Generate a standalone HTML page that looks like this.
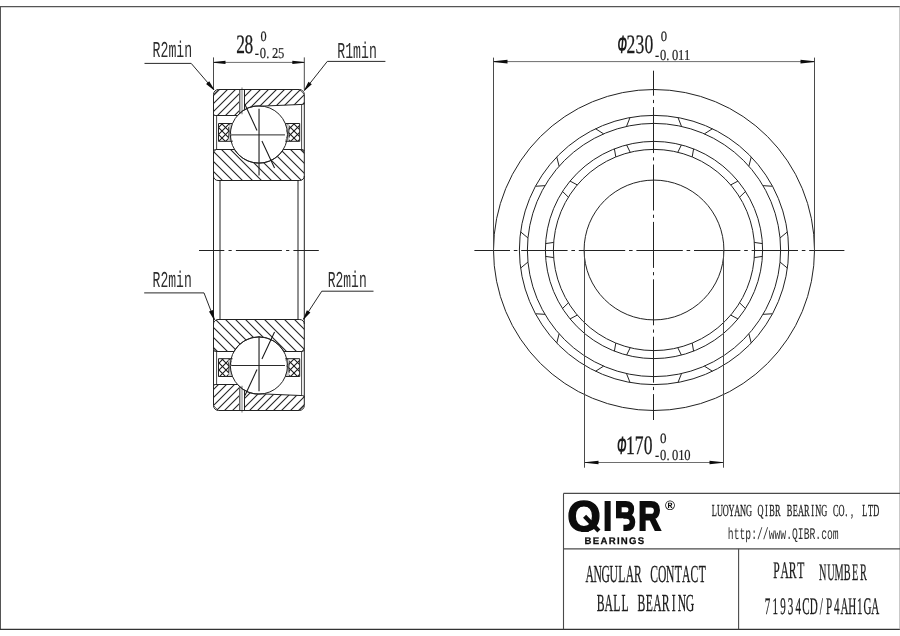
<!DOCTYPE html>
<html lang="en">
<head>
<meta charset="utf-8">
<title>QIBR 71934CD/P4AH1GA Angular Contact Ball Bearing</title>
<style>
html,body{margin:0;padding:0;background:#fff;}
body{width:900px;height:636px;overflow:hidden;}
svg{display:block;}
text{text-rendering:geometricPrecision;}
</style>
</head>
<body>
<svg width="900" height="636" viewBox="0 0 900 636" style="will-change:transform;filter:grayscale(1)">
<rect x="0" y="0" width="900" height="636" fill="#fff"/>
<g id="frame">
<line x1="0.00" y1="6.60" x2="900.00" y2="6.60" stroke="#555" stroke-width="1.15"/>
<line x1="0.50" y1="6.60" x2="0.50" y2="629.50" stroke="#555" stroke-width="1.0"/>
<line x1="0.00" y1="629.40" x2="900.00" y2="629.40" stroke="#333" stroke-width="1.15"/>
<line x1="899.60" y1="6.60" x2="899.60" y2="629.30" stroke="#b4b4b4" stroke-width="0.8"/>
<line x1="563.50" y1="493.40" x2="900.00" y2="493.40" stroke="#4a4a4a" stroke-width="1.15"/>
<line x1="563.50" y1="493.40" x2="563.50" y2="629.30" stroke="#4a4a4a" stroke-width="1.1"/>
<line x1="563.50" y1="548.80" x2="900.00" y2="548.80" stroke="#4a4a4a" stroke-width="1.15"/>
<line x1="738.60" y1="548.80" x2="738.60" y2="629.30" stroke="#4a4a4a" stroke-width="1.1"/>
</g>
<g id="section-t">
<clipPath id="cot"><path d="M218.50,89.50 L299.30,89.50 A5.0,5.0 0 0 1 304.30,94.50 L304.30,102.80 A1.6,1.6 0 0 1 302.70,104.40 L262.40,106.11 A28.6,28.6 0 0 0 237.52,115.50 L215.10,115.50 A1.6,1.6 0 0 1 213.50,113.90 L213.50,94.50 A5.0,5.0 0 0 1 218.50,89.50 Z"/></clipPath>
<g clip-path="url(#cot)">
<line x1="150.00" y1="53.00" x2="350.00" y2="-147.00" stroke="#222222" stroke-width="1.1"/>
<line x1="150.00" y1="61.00" x2="350.00" y2="-139.00" stroke="#222222" stroke-width="1.1"/>
<line x1="150.00" y1="69.00" x2="350.00" y2="-131.00" stroke="#222222" stroke-width="1.1"/>
<line x1="150.00" y1="77.00" x2="350.00" y2="-123.00" stroke="#222222" stroke-width="1.1"/>
<line x1="150.00" y1="85.00" x2="350.00" y2="-115.00" stroke="#222222" stroke-width="1.1"/>
<line x1="150.00" y1="93.00" x2="350.00" y2="-107.00" stroke="#222222" stroke-width="1.1"/>
<line x1="150.00" y1="102.00" x2="350.00" y2="-98.00" stroke="#222222" stroke-width="1.1"/>
<line x1="150.00" y1="110.00" x2="350.00" y2="-90.00" stroke="#222222" stroke-width="1.1"/>
<line x1="150.00" y1="118.00" x2="350.00" y2="-82.00" stroke="#222222" stroke-width="1.1"/>
<line x1="150.00" y1="126.00" x2="350.00" y2="-74.00" stroke="#222222" stroke-width="1.1"/>
<line x1="150.00" y1="134.00" x2="350.00" y2="-66.00" stroke="#222222" stroke-width="1.1"/>
<line x1="150.00" y1="142.00" x2="350.00" y2="-58.00" stroke="#222222" stroke-width="1.1"/>
<line x1="150.00" y1="151.00" x2="350.00" y2="-49.00" stroke="#222222" stroke-width="1.1"/>
<line x1="150.00" y1="159.00" x2="350.00" y2="-41.00" stroke="#222222" stroke-width="1.1"/>
<line x1="150.00" y1="167.00" x2="350.00" y2="-33.00" stroke="#222222" stroke-width="1.1"/>
<line x1="150.00" y1="175.00" x2="350.00" y2="-25.00" stroke="#222222" stroke-width="1.1"/>
<line x1="150.00" y1="183.00" x2="350.00" y2="-17.00" stroke="#222222" stroke-width="1.1"/>
<line x1="150.00" y1="191.00" x2="350.00" y2="-9.00" stroke="#222222" stroke-width="1.1"/>
<line x1="150.00" y1="200.00" x2="350.00" y2="0.00" stroke="#222222" stroke-width="1.1"/>
<line x1="150.00" y1="208.00" x2="350.00" y2="8.00" stroke="#222222" stroke-width="1.1"/>
<line x1="150.00" y1="216.00" x2="350.00" y2="16.00" stroke="#222222" stroke-width="1.1"/>
<line x1="150.00" y1="224.00" x2="350.00" y2="24.00" stroke="#222222" stroke-width="1.1"/>
<line x1="150.00" y1="232.00" x2="350.00" y2="32.00" stroke="#222222" stroke-width="1.1"/>
<line x1="150.00" y1="240.00" x2="350.00" y2="40.00" stroke="#222222" stroke-width="1.1"/>
<line x1="150.00" y1="249.00" x2="350.00" y2="49.00" stroke="#222222" stroke-width="1.1"/>
<line x1="150.00" y1="257.00" x2="350.00" y2="57.00" stroke="#222222" stroke-width="1.1"/>
<line x1="150.00" y1="265.00" x2="350.00" y2="65.00" stroke="#222222" stroke-width="1.1"/>
<line x1="150.00" y1="273.00" x2="350.00" y2="73.00" stroke="#222222" stroke-width="1.1"/>
<line x1="150.00" y1="281.00" x2="350.00" y2="81.00" stroke="#222222" stroke-width="1.1"/>
<line x1="150.00" y1="289.00" x2="350.00" y2="89.00" stroke="#222222" stroke-width="1.1"/>
<rect x="239.0" y="88.50" width="6.0" height="28.00" fill="#fff"/>
<rect x="239.6" y="88.50" width="3.5" height="28.00" fill="#bdbdbd"/>
<line x1="239.50" y1="89.50" x2="239.50" y2="115.50" stroke="#666" stroke-width="1.0"/>
<line x1="244.50" y1="89.50" x2="244.50" y2="115.50" stroke="#222222" stroke-width="1.0"/>
</g>
<line x1="242.00" y1="87.50" x2="242.00" y2="89.50" stroke="#aaa" stroke-width="1.6"/>
<line x1="242.00" y1="112.00" x2="242.00" y2="114.30" stroke="#999" stroke-width="1.4"/>
<path d="M218.50,89.50 L299.30,89.50 A5.0,5.0 0 0 1 304.30,94.50 L304.30,102.80 A1.6,1.6 0 0 1 302.70,104.40 L262.40,106.11 A28.6,28.6 0 0 0 237.52,115.50 L215.10,115.50 A1.6,1.6 0 0 1 213.50,113.90 L213.50,94.50 A5.0,5.0 0 0 1 218.50,89.50 Z" stroke="#222222" stroke-width="1.0" fill="none"/>
<line x1="213.80" y1="94.10" x2="218.10" y2="89.80" stroke="#222222" stroke-width="0.7"/>
<line x1="304.00" y1="94.10" x2="299.70" y2="89.80" stroke="#222222" stroke-width="0.7"/>
<clipPath id="cit"><path d="M215.70,149.50 L234.55,149.50 A28.6,28.6 0 0 0 283.25,149.50 L302.10,149.50 A2.2,2.2 0 0 1 304.30,151.70 L304.30,176.00 A4.5,4.5 0 0 1 299.80,180.50 L218.00,180.50 A4.5,4.5 0 0 1 213.50,176.00 L213.50,151.70 A2.2,2.2 0 0 1 215.70,149.50 Z"/></clipPath>
<g clip-path="url(#cit)">
<line x1="150.00" y1="267.00" x2="350.00" y2="467.00" stroke="#222222" stroke-width="1.1"/>
<line x1="150.00" y1="257.00" x2="350.00" y2="457.00" stroke="#222222" stroke-width="1.1"/>
<line x1="150.00" y1="247.00" x2="350.00" y2="447.00" stroke="#222222" stroke-width="1.1"/>
<line x1="150.00" y1="237.00" x2="350.00" y2="437.00" stroke="#222222" stroke-width="1.1"/>
<line x1="150.00" y1="227.00" x2="350.00" y2="427.00" stroke="#222222" stroke-width="1.1"/>
<line x1="150.00" y1="217.00" x2="350.00" y2="417.00" stroke="#222222" stroke-width="1.1"/>
<line x1="150.00" y1="207.00" x2="350.00" y2="407.00" stroke="#222222" stroke-width="1.1"/>
<line x1="150.00" y1="197.00" x2="350.00" y2="397.00" stroke="#222222" stroke-width="1.1"/>
<line x1="150.00" y1="187.00" x2="350.00" y2="387.00" stroke="#222222" stroke-width="1.1"/>
<line x1="150.00" y1="177.00" x2="350.00" y2="377.00" stroke="#222222" stroke-width="1.1"/>
<line x1="150.00" y1="168.00" x2="350.00" y2="368.00" stroke="#222222" stroke-width="1.1"/>
<line x1="150.00" y1="158.00" x2="350.00" y2="358.00" stroke="#222222" stroke-width="1.1"/>
<line x1="150.00" y1="148.00" x2="350.00" y2="348.00" stroke="#222222" stroke-width="1.1"/>
<line x1="150.00" y1="138.00" x2="350.00" y2="338.00" stroke="#222222" stroke-width="1.1"/>
<line x1="150.00" y1="128.00" x2="350.00" y2="328.00" stroke="#222222" stroke-width="1.1"/>
<line x1="150.00" y1="118.00" x2="350.00" y2="318.00" stroke="#222222" stroke-width="1.1"/>
<line x1="150.00" y1="108.00" x2="350.00" y2="308.00" stroke="#222222" stroke-width="1.1"/>
<line x1="150.00" y1="98.00" x2="350.00" y2="298.00" stroke="#222222" stroke-width="1.1"/>
<line x1="150.00" y1="88.00" x2="350.00" y2="288.00" stroke="#222222" stroke-width="1.1"/>
<line x1="150.00" y1="78.00" x2="350.00" y2="278.00" stroke="#222222" stroke-width="1.1"/>
<line x1="150.00" y1="69.00" x2="350.00" y2="269.00" stroke="#222222" stroke-width="1.1"/>
<line x1="150.00" y1="59.00" x2="350.00" y2="259.00" stroke="#222222" stroke-width="1.1"/>
<line x1="150.00" y1="49.00" x2="350.00" y2="249.00" stroke="#222222" stroke-width="1.1"/>
<line x1="150.00" y1="39.00" x2="350.00" y2="239.00" stroke="#222222" stroke-width="1.1"/>
<line x1="150.00" y1="29.00" x2="350.00" y2="229.00" stroke="#222222" stroke-width="1.1"/>
<line x1="150.00" y1="19.00" x2="350.00" y2="219.00" stroke="#222222" stroke-width="1.1"/>
<line x1="150.00" y1="9.00" x2="350.00" y2="209.00" stroke="#222222" stroke-width="1.1"/>
<line x1="150.00" y1="-1.00" x2="350.00" y2="199.00" stroke="#222222" stroke-width="1.1"/>
<line x1="150.00" y1="-11.00" x2="350.00" y2="189.00" stroke="#222222" stroke-width="1.1"/>
<line x1="150.00" y1="-21.00" x2="350.00" y2="179.00" stroke="#222222" stroke-width="1.1"/>
<line x1="150.00" y1="-30.00" x2="350.00" y2="170.00" stroke="#222222" stroke-width="1.1"/>
<line x1="150.00" y1="-40.00" x2="350.00" y2="160.00" stroke="#222222" stroke-width="1.1"/>
</g>
<path d="M215.70,149.50 L234.55,149.50 A28.6,28.6 0 0 0 283.25,149.50 L302.10,149.50 A2.2,2.2 0 0 1 304.30,151.70 L304.30,176.00 A4.5,4.5 0 0 1 299.80,180.50 L218.00,180.50 A4.5,4.5 0 0 1 213.50,176.00 L213.50,151.70 A2.2,2.2 0 0 1 215.70,149.50 Z" stroke="#222222" stroke-width="1.0" fill="none"/>
<line x1="213.80" y1="151.90" x2="215.90" y2="149.80" stroke="#222222" stroke-width="0.7"/>
<line x1="304.00" y1="151.90" x2="301.90" y2="149.80" stroke="#222222" stroke-width="0.7"/>
<line x1="213.50" y1="113.50" x2="213.50" y2="151.50" stroke="#222222" stroke-width="1.0"/>
<line x1="304.30" y1="102.40" x2="304.30" y2="151.50" stroke="#222222" stroke-width="1.0"/>
<line x1="216.60" y1="115.50" x2="216.60" y2="149.50" stroke="#333" stroke-width="0.9"/>
<line x1="301.60" y1="104.40" x2="301.60" y2="149.50" stroke="#333" stroke-width="0.9"/>
<clipPath id="cctl"><path d="M218.50,123.50 L232.50,123.50 A28.6,28.6 0 0 0 232.50,141.30 L218.50,141.30 Z"/></clipPath>
<g clip-path="url(#cctl)">
<line x1="150.00" y1="10.00" x2="350.00" y2="210.00" stroke="#1a1a1a" stroke-width="1.1"/>
<line x1="150.00" y1="17.00" x2="350.00" y2="217.00" stroke="#1a1a1a" stroke-width="1.1"/>
<line x1="150.00" y1="24.00" x2="350.00" y2="224.00" stroke="#1a1a1a" stroke-width="1.1"/>
<line x1="150.00" y1="31.00" x2="350.00" y2="231.00" stroke="#1a1a1a" stroke-width="1.1"/>
<line x1="150.00" y1="38.00" x2="350.00" y2="238.00" stroke="#1a1a1a" stroke-width="1.1"/>
<line x1="150.00" y1="45.00" x2="350.00" y2="245.00" stroke="#1a1a1a" stroke-width="1.1"/>
<line x1="150.00" y1="52.00" x2="350.00" y2="252.00" stroke="#1a1a1a" stroke-width="1.1"/>
<line x1="150.00" y1="59.00" x2="350.00" y2="259.00" stroke="#1a1a1a" stroke-width="1.1"/>
<line x1="150.00" y1="66.00" x2="350.00" y2="266.00" stroke="#1a1a1a" stroke-width="1.1"/>
<line x1="150.00" y1="73.00" x2="350.00" y2="273.00" stroke="#1a1a1a" stroke-width="1.1"/>
<line x1="150.00" y1="80.00" x2="350.00" y2="280.00" stroke="#1a1a1a" stroke-width="1.1"/>
<line x1="150.00" y1="87.00" x2="350.00" y2="287.00" stroke="#1a1a1a" stroke-width="1.1"/>
<line x1="150.00" y1="94.00" x2="350.00" y2="294.00" stroke="#1a1a1a" stroke-width="1.1"/>
<line x1="150.00" y1="154.00" x2="350.00" y2="-46.00" stroke="#1a1a1a" stroke-width="1.1"/>
<line x1="150.00" y1="161.00" x2="350.00" y2="-39.00" stroke="#1a1a1a" stroke-width="1.1"/>
<line x1="150.00" y1="168.00" x2="350.00" y2="-32.00" stroke="#1a1a1a" stroke-width="1.1"/>
<line x1="150.00" y1="175.00" x2="350.00" y2="-25.00" stroke="#1a1a1a" stroke-width="1.1"/>
<line x1="150.00" y1="182.00" x2="350.00" y2="-18.00" stroke="#1a1a1a" stroke-width="1.1"/>
<line x1="150.00" y1="189.00" x2="350.00" y2="-11.00" stroke="#1a1a1a" stroke-width="1.1"/>
<line x1="150.00" y1="196.00" x2="350.00" y2="-4.00" stroke="#1a1a1a" stroke-width="1.1"/>
<line x1="150.00" y1="203.00" x2="350.00" y2="3.00" stroke="#1a1a1a" stroke-width="1.1"/>
<line x1="150.00" y1="210.00" x2="350.00" y2="10.00" stroke="#1a1a1a" stroke-width="1.1"/>
<line x1="150.00" y1="217.00" x2="350.00" y2="17.00" stroke="#1a1a1a" stroke-width="1.1"/>
<line x1="150.00" y1="224.00" x2="350.00" y2="24.00" stroke="#1a1a1a" stroke-width="1.1"/>
<line x1="150.00" y1="231.00" x2="350.00" y2="31.00" stroke="#1a1a1a" stroke-width="1.1"/>
<line x1="150.00" y1="238.00" x2="350.00" y2="38.00" stroke="#1a1a1a" stroke-width="1.1"/>
<path d="M228.30,125.00 Q230.20,132.40 228.30,140.30 L232.50,141.30 A28.6,28.6 0 0 1 232.50,123.50 Z" fill="#c8c8c8" stroke="none"/>
<path d="M228.50,127.20 Q229.60,132.40 228.50,137.60" fill="none" stroke="#222222" stroke-width="0.9"/>
</g>
<path d="M232.50,123.50 L218.50,123.50 L218.50,141.30 L232.50,141.30" stroke="#222222" stroke-width="1.0" fill="none"/>
<clipPath id="cctr"><path d="M299.70,123.50 L285.30,123.50 A28.6,28.6 0 0 1 285.30,141.30 L299.70,141.30 Z"/></clipPath>
<g clip-path="url(#cctr)">
<line x1="150.00" y1="-62.00" x2="350.00" y2="138.00" stroke="#1a1a1a" stroke-width="1.1"/>
<line x1="150.00" y1="-55.00" x2="350.00" y2="145.00" stroke="#1a1a1a" stroke-width="1.1"/>
<line x1="150.00" y1="-48.00" x2="350.00" y2="152.00" stroke="#1a1a1a" stroke-width="1.1"/>
<line x1="150.00" y1="-41.00" x2="350.00" y2="159.00" stroke="#1a1a1a" stroke-width="1.1"/>
<line x1="150.00" y1="-34.00" x2="350.00" y2="166.00" stroke="#1a1a1a" stroke-width="1.1"/>
<line x1="150.00" y1="-27.00" x2="350.00" y2="173.00" stroke="#1a1a1a" stroke-width="1.1"/>
<line x1="150.00" y1="-20.00" x2="350.00" y2="180.00" stroke="#1a1a1a" stroke-width="1.1"/>
<line x1="150.00" y1="-13.00" x2="350.00" y2="187.00" stroke="#1a1a1a" stroke-width="1.1"/>
<line x1="150.00" y1="-6.00" x2="350.00" y2="194.00" stroke="#1a1a1a" stroke-width="1.1"/>
<line x1="150.00" y1="1.00" x2="350.00" y2="201.00" stroke="#1a1a1a" stroke-width="1.1"/>
<line x1="150.00" y1="8.00" x2="350.00" y2="208.00" stroke="#1a1a1a" stroke-width="1.1"/>
<line x1="150.00" y1="15.00" x2="350.00" y2="215.00" stroke="#1a1a1a" stroke-width="1.1"/>
<line x1="150.00" y1="22.00" x2="350.00" y2="222.00" stroke="#1a1a1a" stroke-width="1.1"/>
<line x1="150.00" y1="226.00" x2="350.00" y2="26.00" stroke="#1a1a1a" stroke-width="1.1"/>
<line x1="150.00" y1="233.00" x2="350.00" y2="33.00" stroke="#1a1a1a" stroke-width="1.1"/>
<line x1="150.00" y1="240.00" x2="350.00" y2="40.00" stroke="#1a1a1a" stroke-width="1.1"/>
<line x1="150.00" y1="247.00" x2="350.00" y2="47.00" stroke="#1a1a1a" stroke-width="1.1"/>
<line x1="150.00" y1="254.00" x2="350.00" y2="54.00" stroke="#1a1a1a" stroke-width="1.1"/>
<line x1="150.00" y1="261.00" x2="350.00" y2="61.00" stroke="#1a1a1a" stroke-width="1.1"/>
<line x1="150.00" y1="268.00" x2="350.00" y2="68.00" stroke="#1a1a1a" stroke-width="1.1"/>
<line x1="150.00" y1="275.00" x2="350.00" y2="75.00" stroke="#1a1a1a" stroke-width="1.1"/>
<line x1="150.00" y1="282.00" x2="350.00" y2="82.00" stroke="#1a1a1a" stroke-width="1.1"/>
<line x1="150.00" y1="289.00" x2="350.00" y2="89.00" stroke="#1a1a1a" stroke-width="1.1"/>
<line x1="150.00" y1="296.00" x2="350.00" y2="96.00" stroke="#1a1a1a" stroke-width="1.1"/>
<line x1="150.00" y1="303.00" x2="350.00" y2="103.00" stroke="#1a1a1a" stroke-width="1.1"/>
<line x1="150.00" y1="310.00" x2="350.00" y2="110.00" stroke="#1a1a1a" stroke-width="1.1"/>
<path d="M289.50,125.00 Q287.60,132.40 289.50,140.30 L285.30,141.30 A28.6,28.6 0 0 0 285.30,123.50 Z" fill="#c8c8c8" stroke="none"/>
<path d="M289.30,127.20 Q288.20,132.40 289.30,137.60" fill="none" stroke="#222222" stroke-width="0.9"/>
</g>
<path d="M285.30,123.50 L299.70,123.50 L299.70,141.30 L285.30,141.30" stroke="#222222" stroke-width="1.0" fill="none"/>
<circle cx="258.90" cy="134.50" r="28.60" stroke="#222222" stroke-width="1.0" fill="none"/>
<line x1="231.20" y1="134.90" x2="285.00" y2="134.90" stroke="#2a2a2a" stroke-width="1.0"/>
<line x1="259.03" y1="108.70" x2="259.03" y2="175.40" stroke="#222" stroke-width="1.15"/>
<line x1="244.95" y1="104.59" x2="257.00" y2="130.42" stroke="#161616" stroke-width="1.05"/>
<line x1="261.94" y1="141.03" x2="274.54" y2="168.03" stroke="#161616" stroke-width="1.05"/>
</g>
<g id="section-b">
<clipPath id="cob"><path d="M218.50,410.50 L299.30,410.50 A5.0,5.0 0 0 0 304.30,405.50 L304.30,397.20 A1.6,1.6 0 0 0 302.70,395.60 L262.40,393.89 A28.6,28.6 0 0 1 237.52,384.50 L215.10,384.50 A1.6,1.6 0 0 0 213.50,386.10 L213.50,405.50 A5.0,5.0 0 0 0 218.50,410.50 Z"/></clipPath>
<g clip-path="url(#cob)">
<line x1="150.00" y1="346.00" x2="350.00" y2="146.00" stroke="#222222" stroke-width="1.1"/>
<line x1="150.00" y1="355.00" x2="350.00" y2="155.00" stroke="#222222" stroke-width="1.1"/>
<line x1="150.00" y1="363.00" x2="350.00" y2="163.00" stroke="#222222" stroke-width="1.1"/>
<line x1="150.00" y1="371.00" x2="350.00" y2="171.00" stroke="#222222" stroke-width="1.1"/>
<line x1="150.00" y1="379.00" x2="350.00" y2="179.00" stroke="#222222" stroke-width="1.1"/>
<line x1="150.00" y1="387.00" x2="350.00" y2="187.00" stroke="#222222" stroke-width="1.1"/>
<line x1="150.00" y1="395.00" x2="350.00" y2="195.00" stroke="#222222" stroke-width="1.1"/>
<line x1="150.00" y1="404.00" x2="350.00" y2="204.00" stroke="#222222" stroke-width="1.1"/>
<line x1="150.00" y1="412.00" x2="350.00" y2="212.00" stroke="#222222" stroke-width="1.1"/>
<line x1="150.00" y1="420.00" x2="350.00" y2="220.00" stroke="#222222" stroke-width="1.1"/>
<line x1="150.00" y1="428.00" x2="350.00" y2="228.00" stroke="#222222" stroke-width="1.1"/>
<line x1="150.00" y1="436.00" x2="350.00" y2="236.00" stroke="#222222" stroke-width="1.1"/>
<line x1="150.00" y1="444.00" x2="350.00" y2="244.00" stroke="#222222" stroke-width="1.1"/>
<line x1="150.00" y1="453.00" x2="350.00" y2="253.00" stroke="#222222" stroke-width="1.1"/>
<line x1="150.00" y1="461.00" x2="350.00" y2="261.00" stroke="#222222" stroke-width="1.1"/>
<line x1="150.00" y1="469.00" x2="350.00" y2="269.00" stroke="#222222" stroke-width="1.1"/>
<line x1="150.00" y1="477.00" x2="350.00" y2="277.00" stroke="#222222" stroke-width="1.1"/>
<line x1="150.00" y1="485.00" x2="350.00" y2="285.00" stroke="#222222" stroke-width="1.1"/>
<line x1="150.00" y1="493.00" x2="350.00" y2="293.00" stroke="#222222" stroke-width="1.1"/>
<line x1="150.00" y1="502.00" x2="350.00" y2="302.00" stroke="#222222" stroke-width="1.1"/>
<line x1="150.00" y1="510.00" x2="350.00" y2="310.00" stroke="#222222" stroke-width="1.1"/>
<line x1="150.00" y1="518.00" x2="350.00" y2="318.00" stroke="#222222" stroke-width="1.1"/>
<line x1="150.00" y1="526.00" x2="350.00" y2="326.00" stroke="#222222" stroke-width="1.1"/>
<line x1="150.00" y1="534.00" x2="350.00" y2="334.00" stroke="#222222" stroke-width="1.1"/>
<line x1="150.00" y1="542.00" x2="350.00" y2="342.00" stroke="#222222" stroke-width="1.1"/>
<line x1="150.00" y1="551.00" x2="350.00" y2="351.00" stroke="#222222" stroke-width="1.1"/>
<line x1="150.00" y1="559.00" x2="350.00" y2="359.00" stroke="#222222" stroke-width="1.1"/>
<line x1="150.00" y1="567.00" x2="350.00" y2="367.00" stroke="#222222" stroke-width="1.1"/>
<line x1="150.00" y1="575.00" x2="350.00" y2="375.00" stroke="#222222" stroke-width="1.1"/>
<line x1="150.00" y1="583.00" x2="350.00" y2="383.00" stroke="#222222" stroke-width="1.1"/>
<rect x="239.0" y="383.50" width="6.0" height="28.00" fill="#fff"/>
<rect x="239.6" y="383.50" width="3.5" height="28.00" fill="#bdbdbd"/>
<line x1="239.50" y1="410.50" x2="239.50" y2="384.50" stroke="#666" stroke-width="1.0"/>
<line x1="244.50" y1="410.50" x2="244.50" y2="384.50" stroke="#222222" stroke-width="1.0"/>
</g>
<line x1="242.00" y1="412.50" x2="242.00" y2="410.50" stroke="#aaa" stroke-width="1.6"/>
<line x1="242.00" y1="388.00" x2="242.00" y2="385.70" stroke="#999" stroke-width="1.4"/>
<path d="M218.50,410.50 L299.30,410.50 A5.0,5.0 0 0 0 304.30,405.50 L304.30,397.20 A1.6,1.6 0 0 0 302.70,395.60 L262.40,393.89 A28.6,28.6 0 0 1 237.52,384.50 L215.10,384.50 A1.6,1.6 0 0 0 213.50,386.10 L213.50,405.50 A5.0,5.0 0 0 0 218.50,410.50 Z" stroke="#222222" stroke-width="1.0" fill="none"/>
<line x1="213.80" y1="405.90" x2="218.10" y2="410.20" stroke="#222222" stroke-width="0.7"/>
<line x1="304.00" y1="405.90" x2="299.70" y2="410.20" stroke="#222222" stroke-width="0.7"/>
<clipPath id="cib"><path d="M215.70,351.50 L233.96,351.50 A28.6,28.6 0 0 1 283.84,351.50 L302.10,351.50 A2.2,2.2 0 0 0 304.30,349.30 L304.30,324.00 A4.5,4.5 0 0 0 299.80,319.50 L218.00,319.50 A4.5,4.5 0 0 0 213.50,324.00 L213.50,349.30 A2.2,2.2 0 0 0 215.70,351.50 Z"/></clipPath>
<g clip-path="url(#cib)">
<line x1="150.00" y1="85.00" x2="350.00" y2="285.00" stroke="#222222" stroke-width="1.1"/>
<line x1="150.00" y1="95.00" x2="350.00" y2="295.00" stroke="#222222" stroke-width="1.1"/>
<line x1="150.00" y1="105.00" x2="350.00" y2="305.00" stroke="#222222" stroke-width="1.1"/>
<line x1="150.00" y1="115.00" x2="350.00" y2="315.00" stroke="#222222" stroke-width="1.1"/>
<line x1="150.00" y1="125.00" x2="350.00" y2="325.00" stroke="#222222" stroke-width="1.1"/>
<line x1="150.00" y1="135.00" x2="350.00" y2="335.00" stroke="#222222" stroke-width="1.1"/>
<line x1="150.00" y1="145.00" x2="350.00" y2="345.00" stroke="#222222" stroke-width="1.1"/>
<line x1="150.00" y1="155.00" x2="350.00" y2="355.00" stroke="#222222" stroke-width="1.1"/>
<line x1="150.00" y1="165.00" x2="350.00" y2="365.00" stroke="#222222" stroke-width="1.1"/>
<line x1="150.00" y1="175.00" x2="350.00" y2="375.00" stroke="#222222" stroke-width="1.1"/>
<line x1="150.00" y1="185.00" x2="350.00" y2="385.00" stroke="#222222" stroke-width="1.1"/>
<line x1="150.00" y1="195.00" x2="350.00" y2="395.00" stroke="#222222" stroke-width="1.1"/>
<line x1="150.00" y1="205.00" x2="350.00" y2="405.00" stroke="#222222" stroke-width="1.1"/>
<line x1="150.00" y1="215.00" x2="350.00" y2="415.00" stroke="#222222" stroke-width="1.1"/>
<line x1="150.00" y1="224.00" x2="350.00" y2="424.00" stroke="#222222" stroke-width="1.1"/>
<line x1="150.00" y1="234.00" x2="350.00" y2="434.00" stroke="#222222" stroke-width="1.1"/>
<line x1="150.00" y1="244.00" x2="350.00" y2="444.00" stroke="#222222" stroke-width="1.1"/>
<line x1="150.00" y1="254.00" x2="350.00" y2="454.00" stroke="#222222" stroke-width="1.1"/>
<line x1="150.00" y1="264.00" x2="350.00" y2="464.00" stroke="#222222" stroke-width="1.1"/>
<line x1="150.00" y1="274.00" x2="350.00" y2="474.00" stroke="#222222" stroke-width="1.1"/>
<line x1="150.00" y1="284.00" x2="350.00" y2="484.00" stroke="#222222" stroke-width="1.1"/>
<line x1="150.00" y1="294.00" x2="350.00" y2="494.00" stroke="#222222" stroke-width="1.1"/>
<line x1="150.00" y1="304.00" x2="350.00" y2="504.00" stroke="#222222" stroke-width="1.1"/>
<line x1="150.00" y1="314.00" x2="350.00" y2="514.00" stroke="#222222" stroke-width="1.1"/>
<line x1="150.00" y1="324.00" x2="350.00" y2="524.00" stroke="#222222" stroke-width="1.1"/>
<line x1="150.00" y1="334.00" x2="350.00" y2="534.00" stroke="#222222" stroke-width="1.1"/>
<line x1="150.00" y1="344.00" x2="350.00" y2="544.00" stroke="#222222" stroke-width="1.1"/>
<line x1="150.00" y1="354.00" x2="350.00" y2="554.00" stroke="#222222" stroke-width="1.1"/>
<line x1="150.00" y1="364.00" x2="350.00" y2="564.00" stroke="#222222" stroke-width="1.1"/>
<line x1="150.00" y1="374.00" x2="350.00" y2="574.00" stroke="#222222" stroke-width="1.1"/>
<line x1="150.00" y1="384.00" x2="350.00" y2="584.00" stroke="#222222" stroke-width="1.1"/>
<line x1="150.00" y1="394.00" x2="350.00" y2="594.00" stroke="#222222" stroke-width="1.1"/>
</g>
<path d="M215.70,351.50 L233.96,351.50 A28.6,28.6 0 0 1 283.84,351.50 L302.10,351.50 A2.2,2.2 0 0 0 304.30,349.30 L304.30,324.00 A4.5,4.5 0 0 0 299.80,319.50 L218.00,319.50 A4.5,4.5 0 0 0 213.50,324.00 L213.50,349.30 A2.2,2.2 0 0 0 215.70,351.50 Z" stroke="#222222" stroke-width="1.0" fill="none"/>
<line x1="213.80" y1="349.10" x2="215.90" y2="351.20" stroke="#222222" stroke-width="0.7"/>
<line x1="304.00" y1="349.10" x2="301.90" y2="351.20" stroke="#222222" stroke-width="0.7"/>
<line x1="213.50" y1="386.50" x2="213.50" y2="349.50" stroke="#222222" stroke-width="1.0"/>
<line x1="304.30" y1="397.60" x2="304.30" y2="349.50" stroke="#222222" stroke-width="1.0"/>
<line x1="216.60" y1="384.50" x2="216.60" y2="351.50" stroke="#333" stroke-width="0.9"/>
<line x1="301.60" y1="395.60" x2="301.60" y2="351.50" stroke="#333" stroke-width="0.9"/>
<clipPath id="ccbl"><path d="M218.50,358.70 L232.50,358.70 A28.6,28.6 0 0 0 232.50,376.50 L218.50,376.50 Z"/></clipPath>
<g clip-path="url(#ccbl)">
<line x1="150.00" y1="245.00" x2="350.00" y2="445.00" stroke="#1a1a1a" stroke-width="1.1"/>
<line x1="150.00" y1="252.00" x2="350.00" y2="452.00" stroke="#1a1a1a" stroke-width="1.1"/>
<line x1="150.00" y1="259.00" x2="350.00" y2="459.00" stroke="#1a1a1a" stroke-width="1.1"/>
<line x1="150.00" y1="266.00" x2="350.00" y2="466.00" stroke="#1a1a1a" stroke-width="1.1"/>
<line x1="150.00" y1="273.00" x2="350.00" y2="473.00" stroke="#1a1a1a" stroke-width="1.1"/>
<line x1="150.00" y1="280.00" x2="350.00" y2="480.00" stroke="#1a1a1a" stroke-width="1.1"/>
<line x1="150.00" y1="287.00" x2="350.00" y2="487.00" stroke="#1a1a1a" stroke-width="1.1"/>
<line x1="150.00" y1="294.00" x2="350.00" y2="494.00" stroke="#1a1a1a" stroke-width="1.1"/>
<line x1="150.00" y1="301.00" x2="350.00" y2="501.00" stroke="#1a1a1a" stroke-width="1.1"/>
<line x1="150.00" y1="308.00" x2="350.00" y2="508.00" stroke="#1a1a1a" stroke-width="1.1"/>
<line x1="150.00" y1="315.00" x2="350.00" y2="515.00" stroke="#1a1a1a" stroke-width="1.1"/>
<line x1="150.00" y1="322.00" x2="350.00" y2="522.00" stroke="#1a1a1a" stroke-width="1.1"/>
<line x1="150.00" y1="329.00" x2="350.00" y2="529.00" stroke="#1a1a1a" stroke-width="1.1"/>
<line x1="150.00" y1="390.00" x2="350.00" y2="190.00" stroke="#1a1a1a" stroke-width="1.1"/>
<line x1="150.00" y1="397.00" x2="350.00" y2="197.00" stroke="#1a1a1a" stroke-width="1.1"/>
<line x1="150.00" y1="404.00" x2="350.00" y2="204.00" stroke="#1a1a1a" stroke-width="1.1"/>
<line x1="150.00" y1="411.00" x2="350.00" y2="211.00" stroke="#1a1a1a" stroke-width="1.1"/>
<line x1="150.00" y1="418.00" x2="350.00" y2="218.00" stroke="#1a1a1a" stroke-width="1.1"/>
<line x1="150.00" y1="425.00" x2="350.00" y2="225.00" stroke="#1a1a1a" stroke-width="1.1"/>
<line x1="150.00" y1="432.00" x2="350.00" y2="232.00" stroke="#1a1a1a" stroke-width="1.1"/>
<line x1="150.00" y1="439.00" x2="350.00" y2="239.00" stroke="#1a1a1a" stroke-width="1.1"/>
<line x1="150.00" y1="446.00" x2="350.00" y2="246.00" stroke="#1a1a1a" stroke-width="1.1"/>
<line x1="150.00" y1="453.00" x2="350.00" y2="253.00" stroke="#1a1a1a" stroke-width="1.1"/>
<line x1="150.00" y1="460.00" x2="350.00" y2="260.00" stroke="#1a1a1a" stroke-width="1.1"/>
<line x1="150.00" y1="467.00" x2="350.00" y2="267.00" stroke="#1a1a1a" stroke-width="1.1"/>
<line x1="150.00" y1="474.00" x2="350.00" y2="274.00" stroke="#1a1a1a" stroke-width="1.1"/>
<path d="M228.30,360.20 Q230.20,367.60 228.30,375.50 L232.50,376.50 A28.6,28.6 0 0 1 232.50,358.70 Z" fill="#c8c8c8" stroke="none"/>
<path d="M228.50,362.40 Q229.60,367.60 228.50,372.80" fill="none" stroke="#222222" stroke-width="0.9"/>
</g>
<path d="M232.50,358.70 L218.50,358.70 L218.50,376.50 L232.50,376.50" stroke="#222222" stroke-width="1.0" fill="none"/>
<clipPath id="ccbr"><path d="M299.70,358.70 L285.30,358.70 A28.6,28.6 0 0 1 285.30,376.50 L299.70,376.50 Z"/></clipPath>
<g clip-path="url(#ccbr)">
<line x1="150.00" y1="173.00" x2="350.00" y2="373.00" stroke="#1a1a1a" stroke-width="1.1"/>
<line x1="150.00" y1="180.00" x2="350.00" y2="380.00" stroke="#1a1a1a" stroke-width="1.1"/>
<line x1="150.00" y1="187.00" x2="350.00" y2="387.00" stroke="#1a1a1a" stroke-width="1.1"/>
<line x1="150.00" y1="194.00" x2="350.00" y2="394.00" stroke="#1a1a1a" stroke-width="1.1"/>
<line x1="150.00" y1="201.00" x2="350.00" y2="401.00" stroke="#1a1a1a" stroke-width="1.1"/>
<line x1="150.00" y1="208.00" x2="350.00" y2="408.00" stroke="#1a1a1a" stroke-width="1.1"/>
<line x1="150.00" y1="215.00" x2="350.00" y2="415.00" stroke="#1a1a1a" stroke-width="1.1"/>
<line x1="150.00" y1="222.00" x2="350.00" y2="422.00" stroke="#1a1a1a" stroke-width="1.1"/>
<line x1="150.00" y1="229.00" x2="350.00" y2="429.00" stroke="#1a1a1a" stroke-width="1.1"/>
<line x1="150.00" y1="236.00" x2="350.00" y2="436.00" stroke="#1a1a1a" stroke-width="1.1"/>
<line x1="150.00" y1="243.00" x2="350.00" y2="443.00" stroke="#1a1a1a" stroke-width="1.1"/>
<line x1="150.00" y1="250.00" x2="350.00" y2="450.00" stroke="#1a1a1a" stroke-width="1.1"/>
<line x1="150.00" y1="257.00" x2="350.00" y2="457.00" stroke="#1a1a1a" stroke-width="1.1"/>
<line x1="150.00" y1="461.00" x2="350.00" y2="261.00" stroke="#1a1a1a" stroke-width="1.1"/>
<line x1="150.00" y1="468.00" x2="350.00" y2="268.00" stroke="#1a1a1a" stroke-width="1.1"/>
<line x1="150.00" y1="475.00" x2="350.00" y2="275.00" stroke="#1a1a1a" stroke-width="1.1"/>
<line x1="150.00" y1="482.00" x2="350.00" y2="282.00" stroke="#1a1a1a" stroke-width="1.1"/>
<line x1="150.00" y1="489.00" x2="350.00" y2="289.00" stroke="#1a1a1a" stroke-width="1.1"/>
<line x1="150.00" y1="496.00" x2="350.00" y2="296.00" stroke="#1a1a1a" stroke-width="1.1"/>
<line x1="150.00" y1="503.00" x2="350.00" y2="303.00" stroke="#1a1a1a" stroke-width="1.1"/>
<line x1="150.00" y1="510.00" x2="350.00" y2="310.00" stroke="#1a1a1a" stroke-width="1.1"/>
<line x1="150.00" y1="517.00" x2="350.00" y2="317.00" stroke="#1a1a1a" stroke-width="1.1"/>
<line x1="150.00" y1="524.00" x2="350.00" y2="324.00" stroke="#1a1a1a" stroke-width="1.1"/>
<line x1="150.00" y1="531.00" x2="350.00" y2="331.00" stroke="#1a1a1a" stroke-width="1.1"/>
<line x1="150.00" y1="538.00" x2="350.00" y2="338.00" stroke="#1a1a1a" stroke-width="1.1"/>
<line x1="150.00" y1="545.00" x2="350.00" y2="345.00" stroke="#1a1a1a" stroke-width="1.1"/>
<path d="M289.50,360.20 Q287.60,367.60 289.50,375.50 L285.30,376.50 A28.6,28.6 0 0 0 285.30,358.70 Z" fill="#c8c8c8" stroke="none"/>
<path d="M289.30,362.40 Q288.20,367.60 289.30,372.80" fill="none" stroke="#222222" stroke-width="0.9"/>
</g>
<path d="M285.30,358.70 L299.70,358.70 L299.70,376.50 L285.30,376.50" stroke="#222222" stroke-width="1.0" fill="none"/>
<circle cx="258.90" cy="365.50" r="28.60" stroke="#222222" stroke-width="1.0" fill="none"/>
<line x1="231.20" y1="365.50" x2="285.00" y2="365.50" stroke="#2a2a2a" stroke-width="1.0"/>
<line x1="259.03" y1="336.30" x2="259.03" y2="391.30" stroke="#222" stroke-width="1.15"/>
<line x1="244.95" y1="395.41" x2="257.00" y2="369.58" stroke="#161616" stroke-width="1.05"/>
<line x1="261.94" y1="358.97" x2="274.54" y2="331.97" stroke="#161616" stroke-width="1.05"/>
</g>
<g id="section-faces">
<line x1="213.50" y1="176.00" x2="213.50" y2="324.00" stroke="#222222" stroke-width="1.0"/>
<line x1="304.30" y1="176.00" x2="304.30" y2="324.00" stroke="#222222" stroke-width="1.0"/>
<line x1="220.00" y1="180.50" x2="220.00" y2="319.50" stroke="#222222" stroke-width="1.0"/>
<line x1="298.00" y1="180.50" x2="298.00" y2="319.50" stroke="#222222" stroke-width="1.0"/>
<line x1="199.00" y1="250.50" x2="224.30" y2="250.50" stroke="#222222" stroke-width="1.0"/>
<line x1="228.50" y1="250.50" x2="231.70" y2="250.50" stroke="#222222" stroke-width="1.0"/>
<line x1="235.90" y1="250.50" x2="281.90" y2="250.50" stroke="#222222" stroke-width="1.0"/>
<line x1="286.10" y1="250.50" x2="289.30" y2="250.50" stroke="#222222" stroke-width="1.0"/>
<line x1="293.40" y1="250.50" x2="318.80" y2="250.50" stroke="#222222" stroke-width="1.0"/>
</g>
<g id="dims-section">
<line x1="213.50" y1="57.40" x2="213.50" y2="89.50" stroke="#4a4a4a" stroke-width="1.0"/>
<line x1="304.30" y1="57.40" x2="304.30" y2="89.50" stroke="#4a4a4a" stroke-width="1.0"/>
<line x1="213.50" y1="62.40" x2="304.30" y2="62.40" stroke="#6e6e6e" stroke-width="1.0"/>
<polygon points="213.50,62.75 225.50,64.10 225.50,60.70 213.50,62.05" fill="#0c0c0c"/>
<polygon points="304.30,62.05 292.30,60.70 292.30,64.10 304.30,62.75" fill="#0c0c0c"/>
<line x1="144.50" y1="63.40" x2="191.20" y2="63.40" stroke="#1c1c1c" stroke-width="0.95"/>
<line x1="191.20" y1="63.40" x2="213.90" y2="89.80" stroke="#1c1c1c" stroke-width="0.95"/>
<polygon points="214.17,89.57 209.23,81.15 206.05,83.89 213.63,90.03" fill="#0c0c0c"/>
<line x1="327.30" y1="61.40" x2="385.40" y2="61.40" stroke="#1c1c1c" stroke-width="0.95"/>
<line x1="327.30" y1="61.40" x2="304.20" y2="90.60" stroke="#1c1c1c" stroke-width="0.95"/>
<polygon points="304.47,90.82 311.80,84.37 308.51,81.77 303.93,90.38" fill="#0c0c0c"/>
<line x1="144.20" y1="292.90" x2="204.00" y2="292.90" stroke="#1c1c1c" stroke-width="0.95"/>
<line x1="204.00" y1="292.90" x2="214.40" y2="319.80" stroke="#1c1c1c" stroke-width="0.95"/>
<polygon points="214.73,319.67 212.90,310.09 208.98,311.60 214.07,319.93" fill="#0c0c0c"/>
<line x1="321.80" y1="291.20" x2="373.50" y2="291.20" stroke="#1c1c1c" stroke-width="0.95"/>
<line x1="321.80" y1="291.20" x2="303.40" y2="319.40" stroke="#1c1c1c" stroke-width="0.95"/>
<polygon points="303.69,319.59 310.40,312.51 306.89,310.21 303.11,319.21" fill="#0c0c0c"/>
</g>
<g id="labels-section">
<text transform="translate(152.61,56.60) scale(0.5806,1)" font-family="'Liberation Mono', monospace" font-size="22.73" font-weight="normal" fill="#2e2e2e" xml:space="preserve">R2min</text>
<text transform="translate(337.31,57.50) scale(0.5790,1)" font-family="'Liberation Mono', monospace" font-size="22.73" font-weight="normal" fill="#2e2e2e" xml:space="preserve">R1min</text>
<text transform="translate(152.62,286.60) scale(0.5744,1)" font-family="'Liberation Mono', monospace" font-size="22.73" font-weight="normal" fill="#2e2e2e" xml:space="preserve">R2min</text>
<text transform="translate(327.72,286.70) scale(0.5714,1)" font-family="'Liberation Mono', monospace" font-size="22.73" font-weight="normal" fill="#2e2e2e" xml:space="preserve">R2min</text>
<text transform="scale(0.6537,1)" x="368.00 380.81" y="52.50" text-anchor="middle" font-family="'Liberation Serif', serif" font-size="26.63" fill="#1c1c1c" stroke="#1c1c1c" stroke-width="0.3" xml:space="preserve">28</text>
<text transform="scale(0.8625,1)" x="305.56" y="40.70" text-anchor="middle" font-family="'Liberation Serif', serif" font-size="14.20" fill="#1c1c1c" stroke="#1c1c1c" stroke-width="0.2" xml:space="preserve">0</text>
<text transform="scale(0.8327,1)" x="308.52 315.78 321.58 330.29 337.54" y="57.90" text-anchor="middle" font-family="'Liberation Serif', serif" font-size="15.09" fill="#1c1c1c" stroke="#1c1c1c" stroke-width="0.2" xml:space="preserve">-0.25</text>
</g>
<g id="front-view">
<circle cx="654.00" cy="250.00" r="160.50" stroke="#222" stroke-width="1.0" fill="none"/>
<circle cx="654.00" cy="250.00" r="134.60" stroke="#222" stroke-width="1.0" fill="none"/>
<circle cx="654.00" cy="250.00" r="126.60" stroke="#222" stroke-width="1.0" fill="none"/>
<circle cx="654.00" cy="250.00" r="108.60" stroke="#222" stroke-width="1.0" fill="none"/>
<circle cx="654.00" cy="250.00" r="100.60" stroke="#222" stroke-width="1.0" fill="none"/>
<circle cx="654.00" cy="250.00" r="69.90" stroke="#222" stroke-width="1.0" fill="none"/>
<line x1="630.00" y1="117.56" x2="626.50" y2="126.42" stroke="#222" stroke-width="1.0"/>
<line x1="626.60" y1="144.91" x2="630.20" y2="152.26" stroke="#222" stroke-width="1.0"/>
<line x1="678.00" y1="117.56" x2="681.50" y2="126.42" stroke="#222" stroke-width="1.0"/>
<line x1="681.40" y1="144.91" x2="677.80" y2="152.26" stroke="#222" stroke-width="1.0"/>
<line x1="712.43" y1="128.74" x2="704.39" y2="133.86" stroke="#222" stroke-width="1.0"/>
<line x1="693.60" y1="148.88" x2="692.20" y2="156.93" stroke="#222" stroke-width="1.0"/>
<line x1="751.26" y1="156.96" x2="748.88" y2="166.19" stroke="#222" stroke-width="1.0"/>
<line x1="737.94" y1="181.09" x2="730.71" y2="184.91" stroke="#222" stroke-width="1.0"/>
<line x1="772.54" y1="186.25" x2="763.03" y2="185.66" stroke="#222" stroke-width="1.0"/>
<line x1="745.48" y1="191.47" x2="739.61" y2="197.16" stroke="#222" stroke-width="1.0"/>
<line x1="787.38" y1="231.90" x2="780.03" y2="237.97" stroke="#222" stroke-width="1.0"/>
<line x1="762.41" y1="243.59" x2="754.31" y2="242.43" stroke="#222" stroke-width="1.0"/>
<line x1="787.38" y1="268.10" x2="780.03" y2="262.03" stroke="#222" stroke-width="1.0"/>
<line x1="762.41" y1="256.41" x2="754.31" y2="257.57" stroke="#222" stroke-width="1.0"/>
<line x1="772.54" y1="313.75" x2="763.03" y2="314.34" stroke="#222" stroke-width="1.0"/>
<line x1="745.48" y1="308.53" x2="739.61" y2="302.84" stroke="#222" stroke-width="1.0"/>
<line x1="751.26" y1="343.04" x2="748.88" y2="333.81" stroke="#222" stroke-width="1.0"/>
<line x1="737.94" y1="318.91" x2="730.71" y2="315.09" stroke="#222" stroke-width="1.0"/>
<line x1="712.43" y1="371.26" x2="704.39" y2="366.14" stroke="#222" stroke-width="1.0"/>
<line x1="693.60" y1="351.12" x2="692.20" y2="343.07" stroke="#222" stroke-width="1.0"/>
<line x1="678.00" y1="382.44" x2="681.50" y2="373.58" stroke="#222" stroke-width="1.0"/>
<line x1="681.40" y1="355.09" x2="677.80" y2="347.74" stroke="#222" stroke-width="1.0"/>
<line x1="630.00" y1="382.44" x2="626.50" y2="373.58" stroke="#222" stroke-width="1.0"/>
<line x1="626.60" y1="355.09" x2="630.20" y2="347.74" stroke="#222" stroke-width="1.0"/>
<line x1="595.57" y1="371.26" x2="603.61" y2="366.14" stroke="#222" stroke-width="1.0"/>
<line x1="614.40" y1="351.12" x2="615.80" y2="343.07" stroke="#222" stroke-width="1.0"/>
<line x1="556.74" y1="343.04" x2="559.12" y2="333.81" stroke="#222" stroke-width="1.0"/>
<line x1="570.06" y1="318.91" x2="577.29" y2="315.09" stroke="#222" stroke-width="1.0"/>
<line x1="535.46" y1="313.75" x2="544.97" y2="314.34" stroke="#222" stroke-width="1.0"/>
<line x1="562.52" y1="308.53" x2="568.39" y2="302.84" stroke="#222" stroke-width="1.0"/>
<line x1="520.62" y1="268.10" x2="527.97" y2="262.03" stroke="#222" stroke-width="1.0"/>
<line x1="545.59" y1="256.41" x2="553.69" y2="257.57" stroke="#222" stroke-width="1.0"/>
<line x1="520.62" y1="231.90" x2="527.97" y2="237.97" stroke="#222" stroke-width="1.0"/>
<line x1="545.59" y1="243.59" x2="553.69" y2="242.43" stroke="#222" stroke-width="1.0"/>
<line x1="535.46" y1="186.25" x2="544.97" y2="185.66" stroke="#222" stroke-width="1.0"/>
<line x1="562.52" y1="191.47" x2="568.39" y2="197.16" stroke="#222" stroke-width="1.0"/>
<line x1="556.74" y1="156.96" x2="559.12" y2="166.19" stroke="#222" stroke-width="1.0"/>
<line x1="570.06" y1="181.09" x2="577.29" y2="184.91" stroke="#222" stroke-width="1.0"/>
<line x1="595.57" y1="128.74" x2="603.61" y2="133.86" stroke="#222" stroke-width="1.0"/>
<line x1="614.40" y1="148.88" x2="615.80" y2="156.93" stroke="#222" stroke-width="1.0"/>
<line x1="474.40" y1="250.50" x2="510.00" y2="250.50" stroke="#222222" stroke-width="1.0"/>
<line x1="513.80" y1="250.50" x2="517.40" y2="250.50" stroke="#222222" stroke-width="1.0"/>
<line x1="521.20" y1="250.50" x2="567.60" y2="250.50" stroke="#222222" stroke-width="1.0"/>
<line x1="571.40" y1="250.50" x2="575.00" y2="250.50" stroke="#222222" stroke-width="1.0"/>
<line x1="578.80" y1="250.50" x2="625.20" y2="250.50" stroke="#222222" stroke-width="1.0"/>
<line x1="629.00" y1="250.50" x2="632.60" y2="250.50" stroke="#222222" stroke-width="1.0"/>
<line x1="636.40" y1="250.50" x2="682.80" y2="250.50" stroke="#222222" stroke-width="1.0"/>
<line x1="686.60" y1="250.50" x2="690.20" y2="250.50" stroke="#222222" stroke-width="1.0"/>
<line x1="694.00" y1="250.50" x2="740.40" y2="250.50" stroke="#222222" stroke-width="1.0"/>
<line x1="744.20" y1="250.50" x2="747.80" y2="250.50" stroke="#222222" stroke-width="1.0"/>
<line x1="751.60" y1="250.50" x2="798.00" y2="250.50" stroke="#222222" stroke-width="1.0"/>
<line x1="801.80" y1="250.50" x2="805.40" y2="250.50" stroke="#222222" stroke-width="1.0"/>
<line x1="809.20" y1="250.50" x2="844.40" y2="250.50" stroke="#222222" stroke-width="1.0"/>
<line x1="653.50" y1="70.70" x2="653.50" y2="95.70" stroke="#222222" stroke-width="1.0"/>
<line x1="653.50" y1="99.90" x2="653.50" y2="103.10" stroke="#222222" stroke-width="1.0"/>
<line x1="653.50" y1="107.10" x2="653.50" y2="153.10" stroke="#222222" stroke-width="1.0"/>
<line x1="653.50" y1="157.30" x2="653.50" y2="160.50" stroke="#222222" stroke-width="1.0"/>
<line x1="653.50" y1="164.50" x2="653.50" y2="210.50" stroke="#222222" stroke-width="1.0"/>
<line x1="653.50" y1="214.70" x2="653.50" y2="217.90" stroke="#222222" stroke-width="1.0"/>
<line x1="653.50" y1="221.90" x2="653.50" y2="267.90" stroke="#222222" stroke-width="1.0"/>
<line x1="653.50" y1="272.10" x2="653.50" y2="275.30" stroke="#222222" stroke-width="1.0"/>
<line x1="653.50" y1="279.30" x2="653.50" y2="325.30" stroke="#222222" stroke-width="1.0"/>
<line x1="653.50" y1="329.50" x2="653.50" y2="332.70" stroke="#222222" stroke-width="1.0"/>
<line x1="653.50" y1="336.70" x2="653.50" y2="382.70" stroke="#222222" stroke-width="1.0"/>
<line x1="653.50" y1="386.90" x2="653.50" y2="390.10" stroke="#222222" stroke-width="1.0"/>
<line x1="653.50" y1="394.10" x2="653.50" y2="420.00" stroke="#222222" stroke-width="1.0"/>
</g>
<g id="dims-front">
<line x1="493.50" y1="57.60" x2="493.50" y2="250.50" stroke="#4a4a4a" stroke-width="1.0"/>
<line x1="814.50" y1="57.60" x2="814.50" y2="250.50" stroke="#4a4a4a" stroke-width="1.0"/>
<line x1="493.50" y1="61.60" x2="814.50" y2="61.60" stroke="#6e6e6e" stroke-width="1.0"/>
<polygon points="493.50,61.95 507.50,63.45 507.50,59.75 493.50,61.25" fill="#0c0c0c"/>
<polygon points="814.50,61.25 800.50,59.75 800.50,63.45 814.50,61.95" fill="#0c0c0c"/>
<line x1="584.50" y1="250.50" x2="584.50" y2="467.70" stroke="#4a4a4a" stroke-width="1.0"/>
<line x1="723.50" y1="250.50" x2="723.50" y2="467.70" stroke="#4a4a4a" stroke-width="1.0"/>
<line x1="584.50" y1="462.50" x2="723.50" y2="462.50" stroke="#6e6e6e" stroke-width="1.0"/>
<polygon points="584.50,462.85 598.50,464.35 598.50,460.65 584.50,462.15" fill="#0c0c0c"/>
<polygon points="723.50,462.15 709.50,460.65 709.50,464.35 723.50,462.85" fill="#0c0c0c"/>
<text y="53.30" font-family="'Liberation Serif', serif" font-size="26.63" fill="#1c1c1c" stroke="#1c1c1c" stroke-width="0.3" xml:space="preserve"><tspan x="617.60" textLength="9.40" lengthAdjust="spacingAndGlyphs" font-family="'Liberation Sans', sans-serif" font-style="italic" font-weight="bold" font-size="25.30" stroke="none">Φ</tspan><tspan x="626.61 635.51 644.40" textLength="26.36" lengthAdjust="spacingAndGlyphs">230</tspan></text>
<text transform="scale(0.8951,1)" x="741.67" y="40.80" text-anchor="middle" font-family="'Liberation Serif', serif" font-size="14.20" fill="#1c1c1c" stroke="#1c1c1c" stroke-width="0.2" xml:space="preserve">0</text>
<text transform="scale(0.8294,1)" x="792.23 799.48 805.29 813.99 821.25 828.50" y="59.70" text-anchor="middle" font-family="'Liberation Serif', serif" font-size="15.09" fill="#1c1c1c" stroke="#1c1c1c" stroke-width="0.2" xml:space="preserve">-0.011</text>
<text y="454.40" font-family="'Liberation Serif', serif" font-size="26.63" fill="#1c1c1c" stroke="#1c1c1c" stroke-width="0.3" xml:space="preserve"><tspan x="616.92" textLength="9.40" lengthAdjust="spacingAndGlyphs" font-family="'Liberation Sans', sans-serif" font-style="italic" font-weight="bold" font-size="25.30" stroke="none">Φ</tspan><tspan x="625.94 634.87 643.79" textLength="26.36" lengthAdjust="spacingAndGlyphs">170</tspan></text>
<text transform="scale(0.9200,1)" x="720.98" y="443.30" text-anchor="middle" font-family="'Liberation Serif', serif" font-size="14.20" fill="#1c1c1c" stroke="#1c1c1c" stroke-width="0.2" xml:space="preserve">0</text>
<text transform="scale(0.8318,1)" x="790.01 797.27 803.07 811.77 819.03 826.28" y="460.40" text-anchor="middle" font-family="'Liberation Serif', serif" font-size="15.09" fill="#1c1c1c" stroke="#1c1c1c" stroke-width="0.2" xml:space="preserve">-0.010</text>
</g>
<g id="title-block">
<text transform="scale(0.4964,1)" x="1438.74 1450.40 1462.06 1473.72 1485.38 1497.04 1508.71 1520.37 1532.03 1543.69 1555.35 1567.01 1578.67 1590.34 1602.00 1613.66 1625.32 1636.98 1648.64 1660.31 1671.97 1683.63 1695.29 1704.62 1716.28 1730.27 1741.94 1753.60 1765.26" y="515.70" text-anchor="middle" font-family="'Liberation Serif', serif" font-size="16.79" fill="#1c1c1c" stroke="#1c1c1c" stroke-width="0.3" xml:space="preserve">LUOYANG QIBR BEARING CO., LTD</text>
<text transform="translate(727.82,539.00) scale(0.6004,1)" font-family="'Liberation Mono', monospace" font-size="16.21" font-weight="normal" fill="#2e2e2e" xml:space="preserve">http://www.QIBR.com</text>
<text transform="scale(0.4748,1)" x="1241.83 1258.80 1275.76 1292.72 1309.68 1326.65 1343.61 1360.57 1377.53 1394.50 1411.46 1428.42 1445.38 1462.34 1479.31" y="582.00" text-anchor="middle" font-family="'Liberation Serif', serif" font-size="24.43" fill="#1c1c1c" stroke="#1c1c1c" stroke-width="0.3" xml:space="preserve">ANGULAR CONTACT</text>
<text transform="scale(0.4786,1)" x="1255.10 1272.06 1289.02 1305.98 1322.95 1339.91 1356.87 1373.83 1390.79 1407.76 1424.72 1441.68" y="611.40" text-anchor="middle" font-family="'Liberation Serif', serif" font-size="24.43" fill="#1c1c1c" stroke="#1c1c1c" stroke-width="0.3" xml:space="preserve">BALL BEARING</text>
<text transform="scale(0.4868,1)" x="1595.27 1611.81 1628.34 1644.88" y="578.40" text-anchor="middle" font-family="'Liberation Serif', serif" font-size="23.82" fill="#1c1c1c" stroke="#1c1c1c" stroke-width="0.3" xml:space="preserve">PART</text>
<text transform="scale(0.4303,1)" x="1911.95 1930.86 1949.77 1968.68 1987.58 2006.49" y="580.00" text-anchor="middle" font-family="'Liberation Serif', serif" font-size="23.82" fill="#1c1c1c" stroke="#1c1c1c" stroke-width="0.3" xml:space="preserve">NUMBER</text>
<text transform="scale(0.4651,1)" x="1650.24 1666.77 1683.31 1699.85 1716.39 1732.93 1749.47 1766.00 1782.54 1799.08 1815.62 1832.16 1848.69 1865.23 1881.77" y="613.60" text-anchor="middle" font-family="'Liberation Serif', serif" font-size="23.82" fill="#1c1c1c" stroke="#1c1c1c" stroke-width="0.3" xml:space="preserve">71934CD/P4AH1GA</text>
<g id="logo">
<clipPath id="qclip"><rect x="560" y="495" width="110" height="36.9"/></clipPath>
<g clip-path="url(#qclip)"><text font-family="'Liberation Sans', sans-serif" font-weight="bold" fill="#0c0c0c" stroke="#0c0c0c" stroke-linejoin="miter"><tspan x="567.19" y="530.65" font-size="42.94" textLength="33.47" lengthAdjust="spacingAndGlyphs" stroke-width="1.3">Q</tspan><tspan x="601.86" y="530.70" font-size="43.60" textLength="11.78" lengthAdjust="spacingAndGlyphs" stroke-width="0.0">I</tspan><tspan x="614.66" y="529.70" font-size="40.70" textLength="21.14" lengthAdjust="spacingAndGlyphs" stroke-width="2.0">B</tspan><tspan x="638.17" y="529.70" font-size="40.70" textLength="22.69" lengthAdjust="spacingAndGlyphs" stroke-width="2.0">R</tspan></text></g>
<line x1="584.6" y1="516.3" x2="598.9" y2="531.0" stroke="#0c0c0c" stroke-width="4.3"/>
<rect x="614.5" y="518.3" width="8.9" height="13.5" fill="#fff"/>
<text x="584.6" y="544.1" font-family="'Liberation Sans', sans-serif" font-weight="bold" font-size="9.6" letter-spacing="0.62" fill="#0c0c0c" stroke="#0c0c0c" stroke-width="0.25" textLength="60.2" lengthAdjust="spacing">BEARINGS</text>
<text x="665.00" y="509.99" font-family="'Liberation Sans', sans-serif" font-weight="bold" font-size="13.60" fill="#0c0c0c">®</text>
</g>
</g>
</svg>
</body>
</html>
